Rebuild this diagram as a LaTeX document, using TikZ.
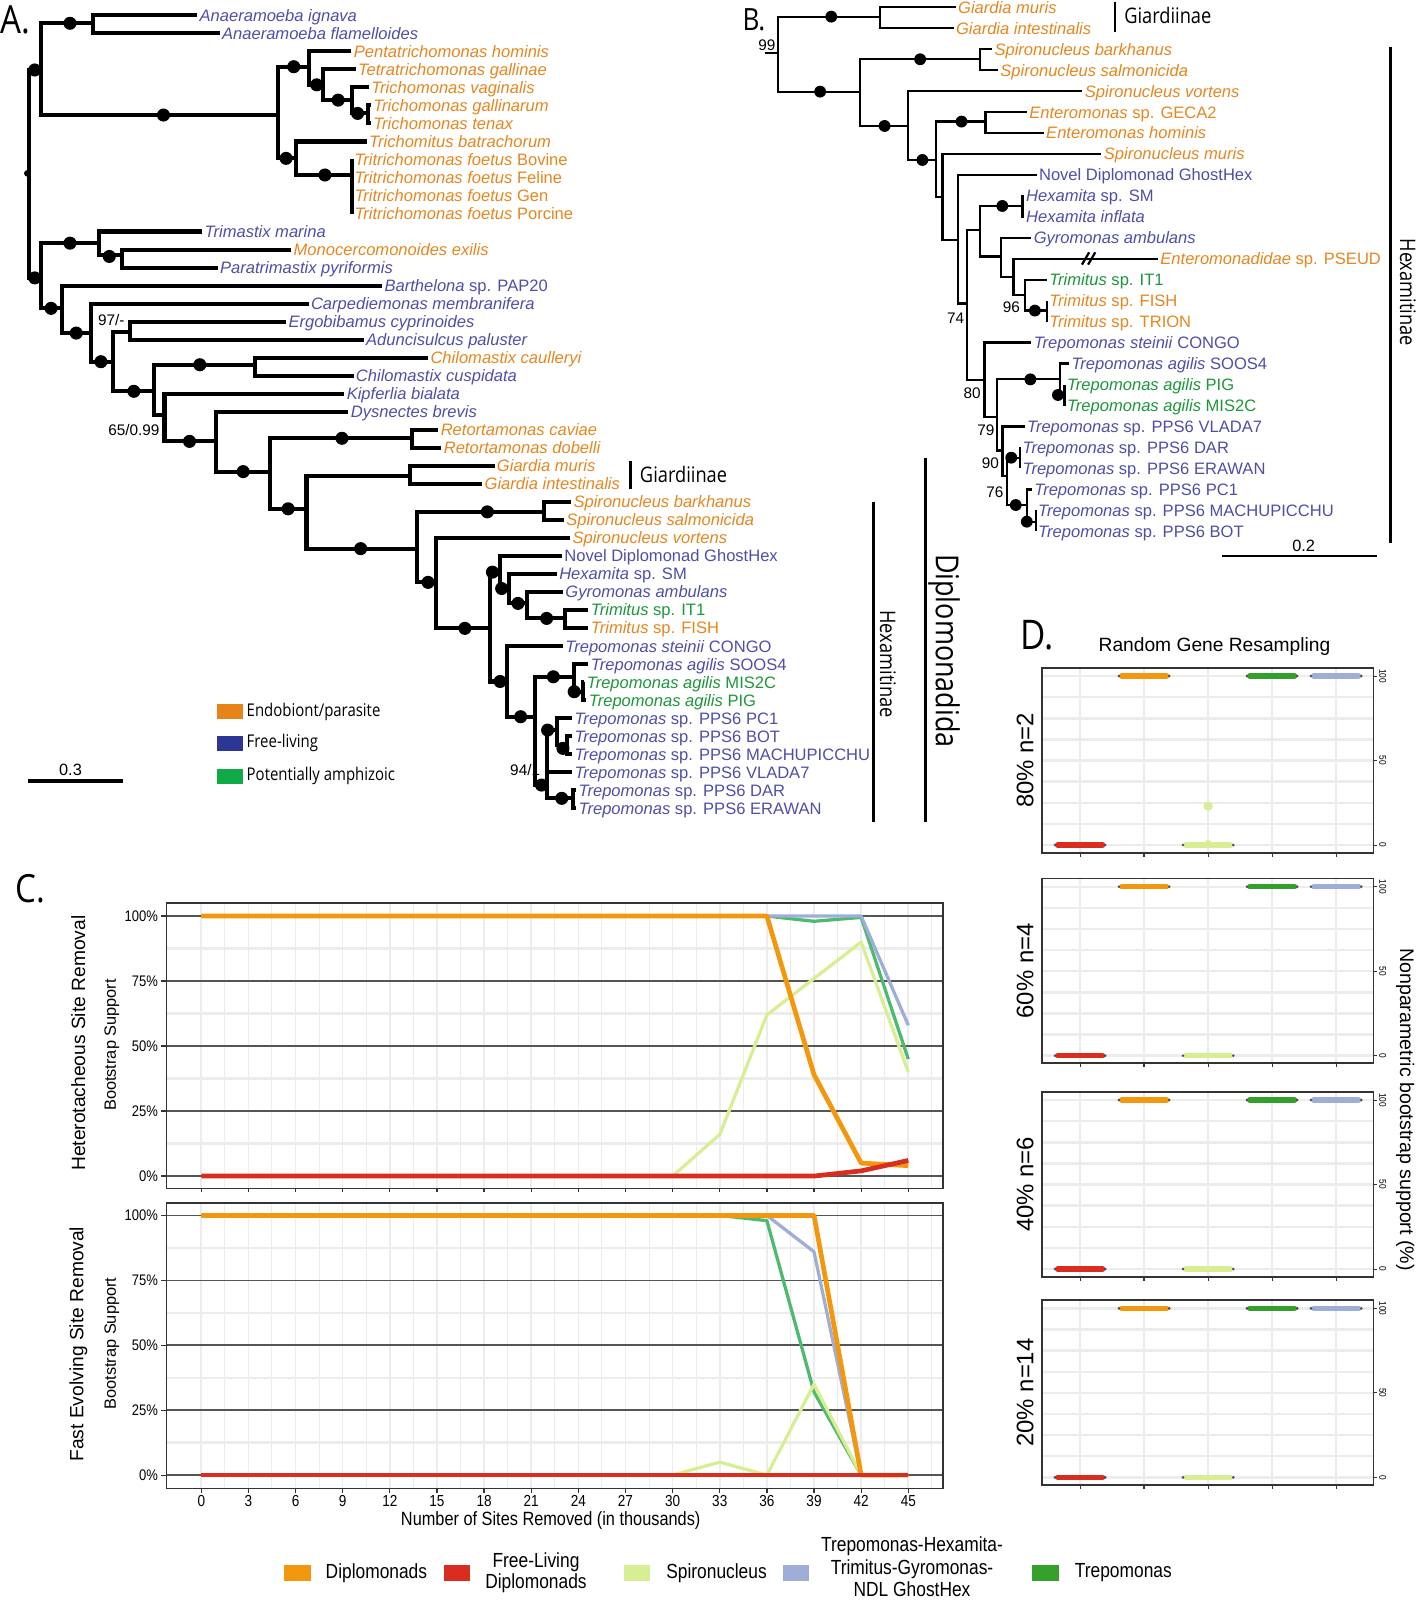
\documentclass[tikz,border=0pt]{standalone}
\usepackage{fontspec}
\setmainfont{Liberation Sans}
\newfontfamily\myr[FakeStretch=0.85]{Open Sans}
\newfontfamily\narrow[FakeStretch=0.85]{Liberation Sans}
\usetikzlibrary{positioning}
\definecolor{torange}{RGB}{229,134,30}
\definecolor{tblue}{RGB}{78,78,168}
\definecolor{tgreen}{RGB}{28,150,58}
\definecolor{korange}{RGB}{231,131,24}
\definecolor{kblue}{RGB}{44,54,150}
\definecolor{kgreen}{RGB}{16,170,72}
\definecolor{cdip}{RGB}{243,151,14}
\definecolor{cfree}{RGB}{217,46,31}
\definecolor{cspiro}{RGB}{216,238,148}
\definecolor{chex}{RGB}{158,174,214}
\definecolor{ctrep}{RGB}{52,160,44}
\definecolor{ctrepl}{RGB}{78,186,112}
\definecolor{gmaj}{RGB}{85,85,85}
\definecolor{glight}{RGB}{236,236,236}
\newcommand{\tipf}{\fontsize{8.1}{9}\selectfont}

\begin{document}
\begin{tikzpicture}[x=0.5pt,y=-0.5pt,% one unit = one pixel of the reference
    tip/.style={anchor=west,inner sep=1pt,text height=5.9pt,text depth=0pt,font=\tipf},
    tipP/.style={tip,text=torange},   % endobiont / parasite
    tipF/.style={tip,text=tblue},     % free-living
    tipA/.style={tip,text=tgreen},    % potentially amphizoic
    brA/.style={line width=2pt},
    brB/.style={line width=1.1pt},
    dotA/.style={fill=black},
    bs/.style={font=\fontsize{7.5}{8}\selectfont,inner sep=0pt},
    ttl/.style={font=\myr\fontsize{19}{20}\selectfont,inner sep=0pt},
    clade/.style={font=\myr\fontsize{10.5}{11}\selectfont,inner sep=1pt},
    key/.style={minimum width=13pt,minimum height=7.5pt,inner sep=0pt},
    legA/.style={font=\myr\fontsize{8.6}{9}\selectfont,inner sep=1pt,anchor=west},
    legC/.style={font=\narrow\fontsize{10}{11.5}\selectfont,inner sep=1pt,align=center},
    ytk/.style={font=\narrow\fontsize{7.5}{8}\selectfont,inner sep=1pt,anchor=east},
    xtk/.style={font=\narrow\fontsize{7.8}{8}\selectfont,inner sep=1pt,anchor=north},
    axt/.style={font=\fontsize{9.4}{10}\selectfont,inner sep=0pt,rotate=90},
    gmin/.style={glight,line width=0.5pt},
    gvert/.style={glight,line width=0.8pt},
    gminh/.style={glight,line width=1.2pt},
    gdark/.style={gmaj,line width=0.8pt},
    frame/.style={black!80,line width=0.9pt},
    dat/.style={line width=1.6pt,line join=round},
    datk/.style={line width=2.3pt,line join=round},
    dbar/.style={line width=2.6pt,line cap=round}
  ]
  \useasboundingbox (0,0) rectangle (1387,1568);

  % ---------------- A. ----------------
  \node[ttl] (aLab) at (15,19) {A.};
  \node[tipF] (a0) at (193,15.0) {\textit{Anaeramoeba ignava}};
  \node[tipF] (a1) at (215,32.6) {\textit{Anaeramoeba flamelloides}};
  \node[tipP] (a2) at (344,50.3) {\textit{Pentatrichomonas hominis}};
  \node[tipP] (a3) at (348,67.9) {\textit{Tetratrichomonas gallinae}};
  \node[tipP] (a4) at (361,85.5) {\textit{Trichomonas vaginalis}};
  \node[tipP] (a5) at (363,103.2) {\textit{Trichomonas gallinarum}};
  \node[tipP] (a6) at (363,120.8) {\textit{Trichomonas tenax}};
  \node[tipP] (a7) at (359,138.5) {\textit{Trichomitus batrachorum}};
  \node[tipP] (a8) at (344.6,156.1) {\textit{Tritrichomonas foetus} Bovine};
  \node[tipP] (a9) at (344.6,173.7) {\textit{Tritrichomonas foetus} Feline};
  \node[tipP] (a10) at (344.6,191.4) {\textit{Tritrichomonas foetus} Gen};
  \node[tipP] (a11) at (344.6,209.0) {\textit{Tritrichomonas foetus} Porcine};
  \node[tipF] (a12) at (198,226.6) {\textit{Trimastix marina}};
  \node[tipP] (a13) at (285,244.3) {\textit{Monocercomonoides exilis}};
  \node[tipF] (a14) at (213,261.9) {\textit{Paratrimastix pyriformis}};
  \node[tipF] (a15) at (374,279.5) {\textit{Barthelona} sp. PAP20};
  \node[tipF] (a16) at (302,297.2) {\textit{Carpediemonas membranifera}};
  \node[tipF] (a17) at (280,314.8) {\textit{Ergobibamus cyprinoides}};
  \node[tipF] (a18) at (356,332.5) {\textit{Aduncisulcus paluster}};
  \node[tipP] (a19) at (419,350.1) {\textit{Chilomastix caulleryi}};
  \node[tipF] (a20) at (346,367.7) {\textit{Chilomastix cuspidata}};
  \node[tipF] (a21) at (337,385.4) {\textit{Kipferlia bialata}};
  \node[tipF] (a22) at (341,403.0) {\textit{Dysnectes brevis}};
  \node[tipP] (a23) at (429,420.6) {\textit{Retortamonas caviae}};
  \node[tipP] (a24) at (432,438.3) {\textit{Retortamonas dobelli}};
  \node[tipP] (a25) at (484,455.9) {\textit{Giardia muris}};
  \node[tipP] (a26) at (472,473.5) {\textit{Giardia intestinalis}};
  \node[tipP] (a27) at (559,491.2) {\textit{Spironucleus barkhanus}};
  \node[tipP] (a28) at (552,508.8) {\textit{Spironucleus salmonicida}};
  \node[tipP] (a29) at (558,526.4) {\textit{Spironucleus vortens}};
  \node[tipF] (a30) at (550,544.1) {Novel Diplomonad GhostHex};
  \node[tipF] (a31) at (545,561.7) {\textit{Hexamita} sp. SM};
  \node[tipF] (a32) at (551,579.4) {\textit{Gyromonas ambulans}};
  \node[tipA] (a33) at (576,597.0) {\textit{Trimitus} sp. IT1};
  \node[tipP] (a34) at (576,614.6) {\textit{Trimitus} sp. FISH};
  \node[tipF] (a35) at (551,632.3) {\textit{Trepomonas steinii} CONGO};
  \node[tipF] (a36) at (576,649.9) {\textit{Trepomonas agilis} SOOS4};
  \node[tipA] (a37) at (572,667.5) {\textit{Trepomonas agilis} MIS2C};
  \node[tipA] (a38) at (574,685.2) {\textit{Trepomonas agilis} PIG};
  \node[tipF] (a39) at (560,702.8) {\textit{Trepomonas} sp. PPS6 PC1};
  \node[tipF] (a40) at (560,720.5) {\textit{Trepomonas} sp. PPS6 BOT};
  \node[tipF] (a41) at (560,738.1) {\textit{Trepomonas} sp. PPS6 MACHUPICCHU};
  \node[tipF] (a42) at (560,755.7) {\textit{Trepomonas} sp. PPS6 VLADA7};
  \node[tipF] (a43) at (564,773.4) {\textit{Trepomonas} sp. PPS6 DAR};
  \node[tipF] (a44) at (564,791.0) {\textit{Trepomonas} sp. PPS6 ERAWAN};

  \coordinate (aR) at (28.6,170);
  \coordinate (aN1) at (40,68.5);
  \coordinate (aAn) at (91.4,22.8);
  \coordinate (aPa) at (272,112.6);
  \coordinate (aP1) at (302.7,65.3);
  \coordinate (aP3) at (316,83);
  \coordinate (aP4) at (344.6,98);
  \coordinate (aP5) at (360,111);
  \coordinate (aP2) at (289.4,155);
  \coordinate (aTf) at (344.6,171.3);
  \coordinate (aN3) at (40,272);
  \coordinate (aTr) at (96.8,238);
  \coordinate (aTr2) at (119,249.6);
  \coordinate (aN4) at (60.5,301.8);
  \coordinate (aN5) at (88.7,326);
  \coordinate (aN6) at (110.9,354);
  \coordinate (aEA) at (127,324.6);
  \coordinate (aN7) at (151,383);
  \coordinate (aCh) at (250,357);
  \coordinate (aN8) at (161,406);
  \coordinate (aN9) at (211.7,432);
  \coordinate (aN10) at (264,461.6);
  \coordinate (aRe) at (403,429);
  \coordinate (aN11) at (300,498);
  \coordinate (aGi) at (401,466);
  \coordinate (aHx) at (408,537);
  \coordinate (aSp) at (532,501);
  \coordinate (aH2) at (427,570);
  \coordinate (aH3) at (480,615);
  \coordinate (aH4) at (489,560);
  \coordinate (aH5) at (498.6,576);
  \coordinate (aH6) at (515.5,590.6);
  \coordinate (aTm) at (553,605.3);
  \coordinate (aH7) at (496.6,667);
  \coordinate (aH8) at (523.7,701.5);
  \coordinate (aAg) at (562,662.4);
  \coordinate (aAg2) at (570.4,677);
  \coordinate (aH9) at (535,768.4);
  \coordinate (aPc) at (545,714.6);
  \coordinate (aBM) at (555,729);
  \coordinate (aDE) at (561,781.4);

  \draw[brA] (aR) |- (aN1) (aR) |- (aN3)
    (aN1) |- (aAn) (aN1) |- (aPa)
    (aAn) |- (a0.west) (aAn) |- (a1.west)
    (aPa) |- (aP1) (aPa) |- (aP2)
    (aP1) |- (a2.west) (aP1) |- (aP3)
    (aP3) |- (a3.west) (aP3) |- (aP4)
    (aP4) |- (a4.west) (aP4) |- (aP5)
    (aP5) |- (a5.west) (aP5) |- (a6.west)
    (aP2) |- (a7.west) (aP2) |- (aTf)
    (aTf) |- (a8.west) (aTf) |- (a11.west)
    (aN3) |- (aTr) (aN3) |- (aN4)
    (aTr) |- (a12.west) (aTr) |- (aTr2)
    (aTr2) |- (a13.west) (aTr2) |- (a14.west)
    (aN4) |- (a15.west) (aN4) |- (aN5)
    (aN5) |- (a16.west) (aN5) |- (aN6)
    (aN6) |- (aEA) (aN6) |- (aN7)
    (aEA) |- (a17.west) (aEA) |- (a18.west)
    (aN7) |- (aCh) (aN7) |- (aN8)
    (aCh) |- (a19.west) (aCh) |- (a20.west)
    (aN8) |- (a21.west) (aN8) |- (aN9)
    (aN9) |- (a22.west) (aN9) |- (aN10)
    (aN10) |- (aRe) (aN10) |- (aN11)
    (aRe) |- (a23.west) (aRe) |- (a24.west)
    (aN11) |- (aGi) (aN11) |- (aHx)
    (aGi) |- (a25.west) (aGi) |- (a26.west)
    (aHx) |- (aSp) (aHx) |- (aH2)
    (aSp) |- (a27.west) (aSp) |- (a28.west)
    (aH2) |- (a29.west) (aH2) |- (aH3)
    (aH3) |- (aH4) (aH3) |- (aH7)
    (aH4) |- (a30.west) (aH4) |- (aH5)
    (aH5) |- (a31.west) (aH5) |- (aH6)
    (aH6) |- (a32.west) (aH6) |- (aTm)
    (aTm) |- (a33.west) (aTm) |- (a34.west)
    (aH7) |- (a35.west) (aH7) |- (aH8)
    (aH8) |- (aAg) (aH8) |- (aH9)
    (aAg) |- (a36.west) (aAg) |- (aAg2)
    (aAg2) |- (a37.west) (aAg2) |- (a38.west)
    (aH9) |- (aPc) (aH9) |- (a42.west) (aH9) |- (aDE)
    (aPc) |- (a39.west) (aPc) |- (aBM)
    (aBM) |- (a40.west) (aBM) |- (a41.west)
    (aDE) |- (a43.west) (aDE) |- (a44.west);
  % support dots
  \foreach \p in {(68.5,22.8),(34,68.5),(160,112.6),(287.5,65.3),(310,83),(331,98),(350,111),
      (280,155),(318,171.3),(68.5,238),(107,251),(34,272),(50,301.8),(74.6,326),(98.8,354),
      (131,383),(195.6,357),(185.5,432),(238,461.6),(334.7,429),(282,498),(353,537),(477,501),
      (419,570),(455,615),(482,560),(491,576),(507,590.6),(535,605.3),(489.5,667),(509.6,701.5),
      (541.6,662.4),(562,677),(530,768.4),(536,714.6),(551,732.5),(549.8,781.4)}
    \fill[dotA] \p circle (3.2pt);
  \fill[dotA] (26.7,169.7) circle (1.6pt);
  \node[bs] (aS1) at (108.9,313) {97/-};
  \node[bs] (aS2) at (131,420.8) {65/0.99};
  \node[bs] (aS3) at (514,753.7) {94/1};

  % clades of A
  \draw[line width=1.2pt] (617,451) coordinate (gA1) -- (617,479) coordinate (gA2);
  \node[clade,anchor=west] (gAt) at (624,464) {Giardiinae};
  \draw[line width=1.2pt] (855,491) coordinate (hA1) -- (855,805) coordinate (hA2);
  \node[clade,rotate=-90] (hAt) at (869,650) {Hexamitinae};
  \draw[line width=1.2pt] (906,448) coordinate (dA1) -- (906,805) coordinate (dA2);
  \node[clade,rotate=-90,font=\myr\fontsize{15.5}{16}\selectfont] (dAt) at (924,637) {Diplomonadida};

  % legend and scale of A
  \node[key,fill=korange] (kA1) at (225.1,696.6) {};
  \node[key,fill=kblue] (kA2) at (225.1,727.6) {};
  \node[key,fill=kgreen] (kA3) at (225.1,759.9) {};
  \node[legA,right=0.3pt of kA1] (lA1) {Endobiont/parasite};
  \node[legA,right=0.3pt of kA2] (lA2) {Free-living};
  \node[legA,right=0.3pt of kA3] (lA3) {Potentially amphizoic};
  \draw[line width=2pt] (27.7,764.1) coordinate (sA1) -- (120.7,764.1) coordinate (sA2);
  \node[bs,font=\fontsize{8}{9}\selectfont] (sAt) at (69,754) {0.3};

  % ---------------- B. ----------------
  \node[ttl,font=\myr\fontsize{15}{16}\selectfont] (bLab) at (738,19) {B.};
  \node[tipP] (b0) at (935.4,7.0) {\textit{Giardia muris}};
  \node[tipP] (b1) at (933.3,27.5) {\textit{Giardia intestinalis}};
  \node[tipP] (b2) at (971,48.0) {\textit{Spironucleus barkhanus}};
  \node[tipP] (b3) at (976.8,68.6) {\textit{Spironucleus salmonicida}};
  \node[tipP] (b4) at (1059.5,89.1) {\textit{Spironucleus vortens}};
  \node[tipP] (b5) at (1005,109.6) {\textit{Enteromonas} sp. GECA2};
  \node[tipP] (b6) at (1021.6,130.1) {\textit{Enteromonas hominis}};
  \node[tipP] (b7) at (1078,150.6) {\textit{Spironucleus muris}};
  \node[tipF] (b8) at (1014.6,171.2) {Novel Diplomonad GhostHex};
  \node[tipF] (b9) at (1002,191.7) {\textit{Hexamita} sp. SM};
  \node[tipF] (b10) at (1002,212.2) {\textit{Hexamita inflata}};
  \node[tipF] (b11) at (1009.4,232.7) {\textit{Gyromonas ambulans}};
  \node[tipP] (b12) at (1133.4,253.2) {\textit{Enteromonadidae} sp. PSEUD};
  \node[tipA] (b13) at (1024.6,273.8) {\textit{Trimitus} sp. IT1};
  \node[tipP] (b14) at (1024.6,294.3) {\textit{Trimitus} sp. FISH};
  \node[tipP] (b15) at (1024.6,314.8) {\textit{Trimitus} sp. TRION};
  \node[tipF] (b16) at (1009.4,335.3) {\textit{Trepomonas steinii} CONGO};
  \node[tipF] (b17) at (1046.4,355.8) {\textit{Trepomonas agilis} SOOS4};
  \node[tipA] (b18) at (1042,376.4) {\textit{Trepomonas agilis} PIG};
  \node[tipA] (b19) at (1042,396.9) {\textit{Trepomonas agilis} MIS2C};
  \node[tipF] (b20) at (1002.9,417.4) {\textit{Trepomonas} sp. PPS6 VLADA7};
  \node[tipF] (b21) at (998.5,437.9) {\textit{Trepomonas} sp. PPS6 DAR};
  \node[tipF] (b22) at (998.5,458.4) {\textit{Trepomonas} sp. PPS6 ERAWAN};
  \node[tipF] (b23) at (1010,479.0) {\textit{Trepomonas} sp. PPS6 PC1};
  \node[tipF] (b24) at (1013.8,499.5) {\textit{Trepomonas} sp. PPS6 MACHUPICCHU};
  \node[tipF] (b25) at (1013.8,520.0) {\textit{Trepomonas} sp. PPS6 BOT};

  \coordinate (bSt) at (748.3,52);
  \coordinate (bR) at (761.4,52);
  \coordinate (bGi) at (861.5,16.3);
  \coordinate (bN1) at (841.9,89.7);
  \coordinate (bSp) at (959.4,58);
  \coordinate (bN2) at (888.4,123.3);
  \coordinate (bN3) at (915.9,156.6);
  \coordinate (bEn) at (964.6,119);
  \coordinate (bN4) at (922.4,192.5);
  \coordinate (bN5) at (937.6,235);
  \coordinate (bN6) at (946.3,297);
  \coordinate (bHx) at (959.4,225);
  \coordinate (bHe) at (1000.7,201.6);
  \coordinate (bGy) at (979.8,251);
  \coordinate (bPs) at (992,270.8);
  \coordinate (bTm) at (1002.9,288.8);
  \coordinate (bTm2) at (1024.6,304);
  \coordinate (bTp) at (963.7,372);
  \coordinate (bN7) at (975.5,408);
  \coordinate (bAg) at (1037.7,371.3);
  \coordinate (bAg2) at (1042,386.6);
  \coordinate (bN8) at (981.1,441);
  \coordinate (bN9) at (985.5,466);
  \coordinate (bDE) at (998.5,448);
  \coordinate (bPc) at (1005.1,494.3);
  \coordinate (bMB) at (1013.8,510.6);

  \draw[brB] (bSt) -- (bR) (bR) |- (bGi) (bR) |- (bN1)
    (bGi) |- (b0.west) (bGi) |- (b1.west)
    (bN1) |- (bSp) (bN1) |- (bN2)
    (bSp) |- (b2.west) (bSp) |- (b3.west)
    (bN2) |- (b4.west) (bN2) |- (bN3)
    (bN3) |- (bEn) (bN3) |- (bN4)
    (bEn) |- (b5.west) (bEn) |- (b6.west)
    (bN4) |- (b7.west) (bN4) |- (bN5)
    (bN5) |- (b8.west) (bN5) |- (bN6)
    (bN6) |- (bHx) (bN6) |- (bTp)
    (bHx) |- (bHe) (bHx) |- (bGy)
    (bHe) |- (b9.west) (bHe) |- (b10.west)
    (bGy) |- (b11.west) (bGy) |- (bPs)
    (bPs) |- (b12.west) (bPs) |- (bTm)
    (bTm) |- (b13.west) (bTm) |- (bTm2)
    (bTm2) |- (b14.west) (bTm2) |- (b15.west)
    (bTp) |- (b16.west) (bTp) |- (bN7)
    (bN7) |- (bAg) (bN7) |- (bN8)
    (bAg) |- (b17.west) (bAg) |- (bAg2)
    (bAg2) |- (b18.west) (bAg2) |- (b19.west)
    (bN8) |- (b20.west) (bN8) |- (bN9)
    (bN9) |- (bDE) (bN9) |- (bPc)
    (bDE) |- (b21.west) (bDE) |- (b22.west)
    (bPc) |- (b23.west) (bPc) |- (bMB)
    (bMB) |- (b24.west) (bMB) |- (b25.west);
  % break on the long branch
  \draw[brB] (1059,259) -- (1066,247) (1065,259) -- (1072,247);
  \foreach \p in {(813.6,16.3),(802.7,89.7),(900.6,58),(865.8,123.3),(902.8,156.6),(941.1,119),
      (981,201.6),(1012.9,304),(1008.5,371.3),(1035.5,386.6),(989.8,448),(994.2,494.3),(1005,510.6)}
    \fill[dotA] \p circle (2.9pt);
  \node[bs] (bS1) at (750.5,44) {99};
  \node[bs] (bS2) at (935.4,311.6) {74};
  \node[bs] (bS3) at (989.8,300.8) {96};
  \node[bs] (bS4) at (951.5,385) {80};
  \node[bs] (bS5) at (965,420.9) {79};
  \node[bs] (bS6) at (969.4,453.5) {90};
  \node[bs] (bS7) at (973.7,481.3) {76};

  \draw[line width=1.1pt] (1091,1.6) coordinate (gB1) -- (1091,31) coordinate (gB2);
  \node[clade,anchor=west] (gBt) at (1098,15) {Giardiinae};
  \draw[line width=1.1pt] (1361,45.7) coordinate (hB1) -- (1361,531.8) coordinate (hB2);
  \node[clade,rotate=-90] (hBt) at (1378,286) {Hexamitinae};
  \draw[line width=1.2pt] (1196,544) coordinate (sB1) -- (1348,544) coordinate (sB2);
  \node[bs,font=\fontsize{8}{9}\selectfont] (sBt) at (1276,534) {0.2};

  % ---------------- C. ----------------
  \node[ttl] (cLab) at (30,870) {C.};
  \begin{scope}[shift={(197,1151.1)},xscale=15.378,yscale=-2.5446]
    \foreach \k in {1.5,4.5,...,46.5} \draw[gmin] (\k,-4.75) -- (\k,104.9);
    \foreach \k in {0,3,...,45} \draw[gvert] (\k,-4.75) -- (\k,104.9);
    \foreach \v in {12.5,37.5,62.5,87.5} \draw[gminh] (-2.21,\v) -- (47.2,\v);
    \foreach \v in {0,25,...,100} \draw[gdark] (-2.21,\v) -- (47.2,\v);
    \draw[dat,ctrepl] (0,100) -- (36,100) -- (39,98) -- (42,99.5) -- (45,45);
    \draw[dat,chex] (0,100) -- (36,100) -- (39,100) -- (42,100) -- (45,58);
    \draw[dat,cspiro] (30,0) -- (33,16) -- (36,62) -- (39,76) -- (42,90) -- (45,40);
    \draw[datk,cdip] (0,100) -- (36,100) -- (39,39) -- (42,5) -- (45,4);
    \draw[datk,cfree] (0,0) -- (39,0) -- (42,2) -- (45,6);
    \draw[frame] (-2.21,-4.75) rectangle (47.2,104.9);
    \foreach \k in {0,3,...,45} \draw[frame,line width=0.6pt] (\k,-4.75) -- (\k,-6.3);
    \foreach \v in {0,25,...,100} {
      \draw[frame,line width=0.6pt] (-2.21,\v) -- (-2.55,\v);
      \node[ytk] (cu\v) at (-2.6,\v) {\v\%};
    }
  \end{scope}
  \node[axt] (cuT1) at (76.7,1021) {Heterotacheous Site Removal};
  \node[axt,font=\fontsize{8}{9}\selectfont] (cuT2) at (109.6,1022.8) {Bootstrap Support};

  \begin{scope}[shift={(197,1443.8)},xscale=15.378,yscale=-2.5416]
    \foreach \k in {1.5,4.5,...,46.5} \draw[gmin] (\k,-5.15) -- (\k,104.9);
    \foreach \k in {0,3,...,45} \draw[gvert] (\k,-5.15) -- (\k,104.9);
    \foreach \v in {12.5,37.5,62.5,87.5} \draw[gminh] (-2.21,\v) -- (47.2,\v);
    \foreach \v in {0,25,...,100} \draw[gdark] (-2.21,\v) -- (47.2,\v);
    \draw[dat,ctrepl] (0,100) -- (33,100) -- (36,98) -- (39,32) -- (42,0);
    \draw[dat,chex] (0,100) -- (36,100) -- (39,86) -- (42,0);
    \draw[dat,cspiro] (30,0) -- (33,5) -- (36,0) -- (39,35) -- (42,0);
    \draw[datk,cdip] (0,100) -- (39,100) -- (42,0) -- (45,0);
    \draw[datk,cfree] (0,0) -- (45,0);
    \draw[frame] (-2.21,-5.15) rectangle (47.2,104.9);
    \foreach \k in {0,3,...,45} {
      \draw[frame,line width=0.6pt] (\k,-5.15) -- (\k,-6.7);
      \node[xtk] (clx\k) at (\k,-6.9) {\k};
    }
    \foreach \v in {0,25,...,100} {
      \draw[frame,line width=0.6pt] (-2.21,\v) -- (-2.55,\v);
      \node[ytk] (cl\v) at (-2.6,\v) {\v\%};
    }
  \end{scope}
  \node[axt] (clT1) at (76.7,1315.6) {Fast Evolving Site Removal};
  \node[axt,font=\fontsize{8}{9}\selectfont] (clT2) at (109.6,1315) {Bootstrap Support};
  \node[font=\narrow\fontsize{9.4}{10}\selectfont,inner sep=0pt] (cX) at (539,1488) {Number of Sites Removed (in thousands)};

  % legend of C
  \node[key,fill=cdip] (k1) at (291,1539.5) {};
  \node[legC,right=6pt of k1] (l1) {Diplomonads};
  \node[key,fill=cfree] (k2) at (447.2,1539.5) {};
  \node[legC,right=6pt of k2,font=\narrow\fontsize{10}{10.5}\selectfont] (l2) {Free-Living\\Diplomonads};
  \node[key,fill=cspiro] (k3) at (623.4,1539.5) {};
  \node[legC,right=6.5pt of k3] (l3) {Spironucleus};
  \node[key,fill=chex] (k4) at (778.9,1539.5) {};
  \node[legC,right=4.5pt of k4,yshift=3pt,font=\narrow\fontsize{10}{11.2}\selectfont] (l4) {Trepomonas-Hexamita-\\Trimitus-Gyromonas-\\NDL GhostHex};
  \node[key,fill=ctrep] (k5) at (1023.3,1539.5) {};
  \node[legC,right=6.5pt of k5] (l5) {Trepomonas};

  % ---------------- D. ----------------
  \node[ttl,font=\myr\fontsize{20}{21}\selectfont] (dLab) at (1015,622) {D.};
  \node[font=\fontsize{9.4}{10}\selectfont,inner sep=0pt] (dTtl) at (1188.7,633) {Random Gene Resampling};
  \foreach \t/\lab [count=\i] in {653.6/80\% n=2, 859.8/60\% n=4, 1068.6/40\% n=6, 1272.5/20\% n=14} {
    \begin{scope}[shift={(0,\t)}]
      \foreach \c in {1057.2,1119.8,1182.5,1245.1,1307.8} \draw[gminh] (\c,0) -- (\c,181);
      \foreach \v in {0,12.5,...,100} \draw[gminh] (1019.7,{173.5-1.654*\v}) -- (1344.3,{173.5-1.654*\v});
      \draw[dbar,cfree] (1035.2,173.5) -- (1079.2,173.5);
      \draw[dbar,cdip] (1097.8,8.1) -- (1141.8,8.1);
      \draw[dbar,cspiro] (1160.5,173.5) -- (1204.5,173.5);
      \draw[dbar,ctrep] (1223.1,8.1) -- (1267.1,8.1);
      \draw[dbar,chex] (1285.8,8.1) -- (1329.8,8.1);
      \foreach \c/\y in {1057.2/173.5,1119.8/8.1,1182.5/173.5,1245.1/8.1,1307.8/8.1} {
        \fill[black!70] ({\c-24.6},\y) circle (0.7pt);
        \fill[black!70] ({\c+24.6},\y) circle (0.7pt);
        \draw[frame,line width=0.6pt] (\c,181) -- (\c,185);
      }
      \draw[frame] (1019.7,0) rectangle (1344.3,181);
      \foreach \v in {0,50,100} {
        \draw[frame,line width=0.5pt] (1344.3,{173.5-1.654*\v}) -- (1347.5,{173.5-1.654*\v});
        \node[font=\narrow\fontsize{4.8}{5}\selectfont,inner sep=0pt,rotate=-90] (dt\i\v) at (1353.5,{173.5-1.654*\v}) {\v};
      }
      \node[font=\fontsize{11.7}{12}\selectfont,inner sep=0pt,rotate=90] (dr\i) at (1003.4,90.5) {\lab};
    \end{scope}
  }
  \fill[cspiro] (1182.5,789) circle (2.3pt);
  \fill[cspiro] (1182.5,825.5) circle (1.7pt);
  \node[font=\fontsize{9.6}{10}\selectfont,inner sep=0pt,rotate=-90] (dY) at (1375.3,1086) {Nonparametric bootstrap support (\%)};
\end{tikzpicture}
\end{document}
